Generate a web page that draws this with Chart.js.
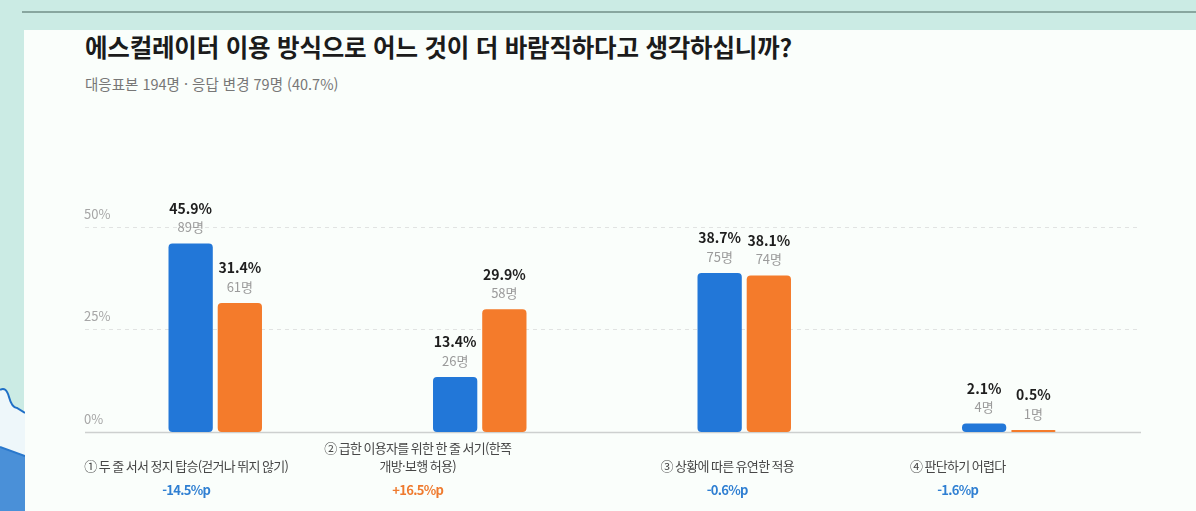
<!DOCTYPE html>
<html lang="ko">
<head>
<meta charset="utf-8">
<script src="https://cdn.jsdelivr.net/npm/chart.js@4"></script>
<style>
  html, body { margin: 0; padding: 0; }
  body { width: 1196px; height: 511px; background: #cbebe4; position: relative; overflow: hidden; font-family: "Noto Sans CJK KR", "Noto Sans", sans-serif; }
  #topline { position: absolute; left: 22px; right: 0; top: 11px; height: 2px; background: #88a69f; }
  #card { position: absolute; left: 24px; top: 30px; right: 0; bottom: 0; background: #fafefb; }
  #deco { position: absolute; left: 0; top: 370px; }
  #title { position: absolute; left: 85px; top: 35px; font-size: 24.5px; font-weight: 700; color: #1b1b1b; line-height: 1; letter-spacing: -0.2px; white-space: nowrap; }
  #subtitle { position: absolute; left: 85px; top: 77px; font-size: 14.5px; color: #777; line-height: 1; white-space: nowrap; }
  #wrap { position: absolute; left: 25px; top: 30px; width: 1171px; height: 481px; }
</style>
</head>
<body>
<div id="topline"></div>
<div id="card"></div>
<svg id="deco" width="25" height="141" viewBox="0 0 25 141">
  <path d="M0,20 Q6,16 9,27 Q12,38 17,38 L25,43 L25,141 L0,141 Z" fill="#eef7fa"/>
  <path d="M0,20 Q6,16 9,27 Q12,38 17,38 L25,43" fill="none" stroke="#1f6fc6" stroke-width="2"/>
  <path d="M0,77 L25,86 L25,141 L0,141 Z" fill="#4a90d8"/>
  <path d="M0,77 L25,86" fill="none" stroke="#2a78cc" stroke-width="2"/>
</svg>
<div id="title">에스컬레이터 이용 방식으로 어느 것이 더 바람직하다고 생각하십니까?</div>
<div id="subtitle">대응표본 194명 · 응답 변경 79명 (40.7%)</div>
<div id="wrap"><canvas id="c" width="1171" height="481"></canvas></div>
<script>
// ---- data ----
const categories = [
  ['① 두 줄 서서 정지 탑승(걷거나 뛰지 않기)'],
  ['② 급한 이용자를 위한 한 줄 서기(한쪽', '개방·보행 허용)'],
  ['③ 상황에 따른 유연한 적용'],
  ['④ 판단하기 어렵다']
];
const seriesNames = ['1차 응답', '2차 응답'];
const firstPct = [45.9, 13.4, 38.7, 2.1];
const secondPct = [31.4, 29.9, 38.1, 0.5];
const firstCount = [89, 26, 75, 4];
const secondCount = [61, 58, 74, 1];
const changeLabels = ['-14.5%p', '+16.5%p', '-0.6%p', '-1.6%p'];
const yTicks = [0, 25, 50];

// ---- styling ----
const BLUE = '#2277d8';
const ORANGE = '#f47b2b';
const FONT = '"Noto Sans CJK KR", "Noto Sans", sans-serif';
const labelShift = [-29, -62, -17, -51];

const labelPlugin = {
  id: 'labelPlugin',
  beforeDatasetsDraw(chart) {
    const { ctx, chartArea: a, scales: { y } } = chart;
    ctx.save();
    y.ticks.forEach(t => {
      const py = Math.round(y.getPixelForValue(t.value)) + 0.5;
      ctx.beginPath();
      if (t.value === 0) {
        ctx.setLineDash([]);
        ctx.strokeStyle = '#cdd0cf';
        ctx.lineWidth = 1.5;
      } else {
        ctx.setLineDash([4, 4]);
        ctx.strokeStyle = '#e1e3e2';
        ctx.lineWidth = 1;
      }
      ctx.moveTo(a.left + 2, py);
      ctx.lineTo(a.right, py);
      ctx.stroke();
      ctx.setLineDash([]);
      ctx.fillStyle = '#a6a6a6';
      ctx.font = '13px ' + FONT;
      ctx.textAlign = 'left';
      ctx.textBaseline = 'middle';
      ctx.fillText(t.value + '%', a.left + 1, py - 13);
    });
    ctx.restore();
  },
  afterDatasetsDraw(chart) {
    const { ctx, scales: { x } } = chart;
    const counts = [firstCount, secondCount];
    ctx.save();
    ctx.textAlign = 'center';
    ctx.textBaseline = 'middle';
    chart.data.datasets.forEach((ds, di) => {
      chart.getDatasetMeta(di).data.forEach((el, i) => {
        ctx.font = 'bold 14px ' + FONT;
        ctx.fillStyle = '#1e1e1e';
        ctx.fillText(ds.data[i].toFixed(1) + '%', el.x, el.y - 35);
        ctx.font = '13px ' + FONT;
        ctx.fillStyle = '#9b9b9b';
        ctx.fillText(counts[di][i] + '명', el.x, el.y - 16);
      });
    });
    try { ctx.letterSpacing = '-0.7px'; } catch (e) {}
    categories.forEach((lines, i) => {
      const cx = x.getPixelForValue(i) + labelShift[i];
      ctx.font = '13px ' + FONT;
      ctx.fillStyle = '#474747';
      const lastY = 436;
      lines.forEach((ln, k) => {
        ctx.fillText(ln, cx, lastY - (lines.length - 1 - k) * 18);
      });
      const lbl = changeLabels[i];
      ctx.font = 'bold 13px ' + FONT;
      ctx.fillStyle = lbl.startsWith('+') ? '#ef7a2e' : '#2f7fd2';
      ctx.fillText(lbl, cx, 460);
    });
    ctx.restore();
  }
};

new Chart(document.getElementById('c'), {
  type: 'bar',
  data: {
    labels: categories,
    datasets: [
      { label: seriesNames[0], data: firstPct, backgroundColor: BLUE },
      { label: seriesNames[1], data: secondPct, backgroundColor: ORANGE }
    ]
  },
  options: {
    responsive: false,
    animation: false,
    devicePixelRatio: 1,
    layout: { padding: { left: 58, right: 55, top: 172, bottom: 79 } },
    datasets: {
      bar: {
        categoryPercentage: 0.372,
        barPercentage: 0.9,
        borderRadius: 4,
        borderSkipped: false
      }
    },
    scales: {
      x: { display: false },
      y: {
        display: false,
        min: 0,
        max: 56,
        afterBuildTicks(scale) { scale.ticks = yTicks.map(v => ({ value: v })); }
      }
    },
    plugins: {
      legend: { display: false },
      tooltip: { enabled: false }
    }
  },
  plugins: [labelPlugin]
});
</script>
</body>
</html>
